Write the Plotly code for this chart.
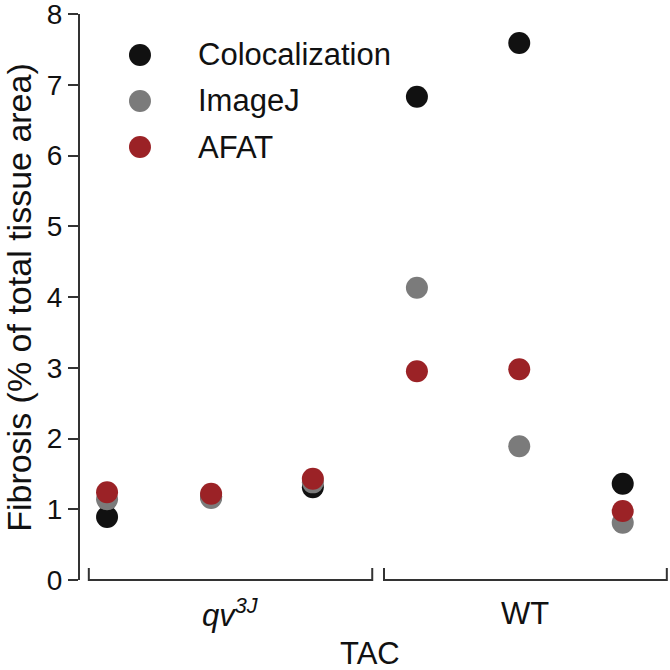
import plotly.graph_objects as go

# ---- data ----
series_names = ["Colocalization", "ImageJ", "AFAT"]
series_colors = ["#111111", "#7b7b7b", "#9b2226"]
sample_x = [0.46, 2.23, 3.96, 5.73, 7.47, 9.23]  # position of each sample along x (0-10 scale)
colocalization = [0.89, 1.18, 1.31, 6.83, 7.59, 1.36]
imagej = [1.14, 1.16, 1.38, 4.13, 1.89, 0.81]
afat = [1.24, 1.22, 1.43, 2.95, 2.98, 0.975]
groups = ["<i>qv</i><sup><i>3J</i></sup>", "WT"]
group_spans = [(0.15, 4.97), (5.17, 9.98)]
group_title = "TAC"
y_ticks = [0, 1, 2, 3, 4, 5, 6, 7, 8]
y_title = "Fibrosis (% of total tissue area)"

FONT = "Liberation Sans, Arial, sans-serif"
fig = go.Figure()
for name, color, vals in zip(series_names, series_colors, [colocalization, imagej, afat]):
    fig.add_trace(go.Scatter(
        x=sample_x, y=vals, mode="markers", name=name,
        marker=dict(size=22, color=color, line=dict(width=0)),
        showlegend=False, cliponaxis=False, hoverinfo="skip",
    ))

shapes = []
# group brackets under the plot
for a, b in group_spans:
    shapes.append(dict(type="path", xref="x", yref="paper",
                       path=f"M {a},0.021 L {a},0 L {b},0 L {b},0.021",
                       line=dict(color="#333333", width=2)))

annotations = []
for (a, b), g in zip(group_spans, groups):
    annotations.append(dict(x=(a + b) / 2, y=0, xref="x", yref="paper", text=g,
                            showarrow=False, yanchor="middle", yshift=-33,
                            font=dict(size=31, color="#111111", family=FONT)))
annotations.append(dict(x=4.93, y=0, xref="x", yref="paper", text=group_title,
                        showarrow=False, yanchor="middle", yshift=-73,
                        font=dict(size=31, color="#111111", family=FONT)))
# y-axis title
annotations.append(dict(x=-0.104, y=0.5, xref="paper", yref="paper", text=y_title,
                        showarrow=False, textangle=-90, xanchor="center", yanchor="middle",
                        font=dict(size=34, color="#111111", family=FONT)))

# manual legend
leg_y = [0.9276, 0.8463, 0.765]
for name, color, yy in zip(series_names, series_colors, leg_y):
    shapes.append(dict(type="circle", xref="paper", yref="paper",
                       xsizemode="pixel", ysizemode="pixel",
                       xanchor=0.102, yanchor=yy, x0=-11, x1=11, y0=-11, y1=11,
                       fillcolor=color, line=dict(width=0)))
    annotations.append(dict(x=0.198, y=yy, xref="paper", yref="paper", text=name,
                            showarrow=False, xanchor="left", yanchor="middle",
                            font=dict(size=31, color="#111111", family=FONT)))

fig.update_layout(
    width=670, height=670,
    margin=dict(l=80, r=2, t=14, b=90, autoexpand=False),
    paper_bgcolor="white", plot_bgcolor="white",
    font=dict(family=FONT, color="#111111"),
    shapes=shapes, annotations=annotations,
    showlegend=False,
)
fig.update_xaxes(range=[0, 10], visible=False, showgrid=False, zeroline=False)
fig.update_yaxes(
    range=[0, 8], tickvals=y_ticks, ticktext=[str(t) for t in y_ticks],
    automargin=False, ticklabeloverflow="allow",
    showline=True, linecolor="#333333", linewidth=2,
    ticks="outside", ticklen=10, tickwidth=2, tickcolor="#333333",
    tickfont=dict(size=28, color="#111111", family=FONT),
    showgrid=False, zeroline=False,
)
fig.write_html("out.html", config={"displayModeBar": False},
               post_script="document.body.style.margin='0px';document.body.style.overflow='hidden';")
